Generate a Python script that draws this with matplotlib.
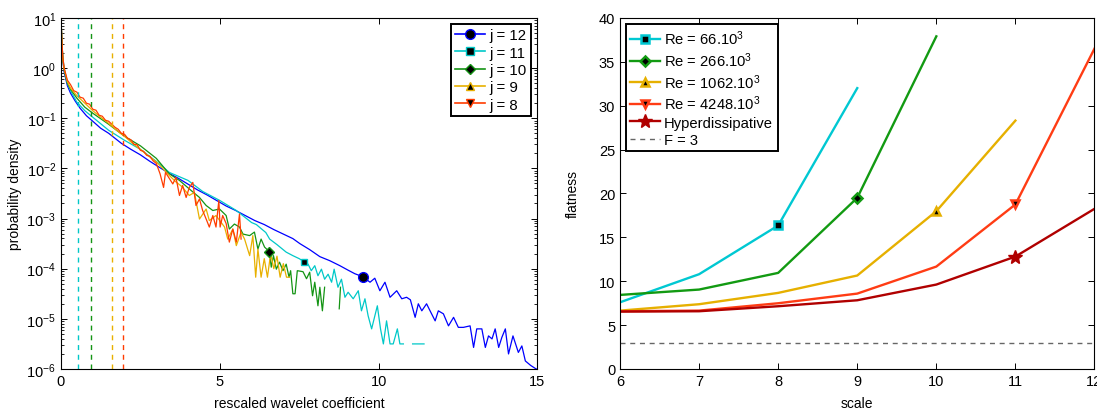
import numpy as np
import matplotlib
matplotlib.use("Agg")
import matplotlib.pyplot as plt
from matplotlib.lines import Line2D
from matplotlib.ticker import LogLocator, NullFormatter, MultipleLocator

plt.rcParams["font.family"] = ["Liberation Sans", "DejaVu Sans"]
plt.rcParams["mathtext.default"] = "regular"
plt.rcParams["font.size"] = 10

nan = np.nan

# ---- left panel: PDFs of rescaled wavelet coefficients (log10 of density)
j12_x = [0, 0.03, 0.06, 0.1, 0.2, 0.3, 0.45, 0.6, 0.8, 1.0, 1.25, 1.5, 1.9, 2.2, 2.5,
         2.8, 3.1, 3.41, 3.7, 4.04, 4.3, 4.6, 4.9, 5.2, 5.5, 5.8, 6.1, 6.4, 6.7, 7.0,
         7.3, 7.52, 7.83, 8.15, 8.46, 8.78, 9.04, 9.25, 9.5, 9.73, 9.88, 10.04, 10.2,
         10.36, 10.57, 10.73, 10.88, 11.0, 11.15, 11.25, 11.36, 11.51, 11.62, 11.78,
         11.88, 12.04, 12.2, 12.36, 12.51, 12.67, 12.88, 12.99, 13.09, 13.25, 13.36,
         13.46, 13.57, 13.67, 13.78, 13.88, 13.99, 14.09, 14.23, 14.4, 14.51, 14.62,
         14.79, 14.96, 15.0]
j12_logp = [1.0, 0.45, 0.15, -0.08, -0.35, -0.5, -0.66, -0.8, -0.95, -1.06, -1.2, -1.3,
            -1.5, -1.62, -1.73, -1.86, -1.98, -2.1, -2.2, -2.33, -2.43, -2.53, -2.64,
            -2.75, -2.84, -2.94, -3.04, -3.12, -3.22, -3.31, -3.4, -3.5, -3.62, -3.76,
            -3.84, -3.94, -4.03, -4.1, -4.16, -4.27, -4.19, -4.44, -4.27, -4.57, -4.44,
            -4.6, -4.57, -4.62, -4.97, -4.7, -4.84, -4.7, -4.84, -5.04, -4.84, -4.9,
            -5.14, -4.97, -5.17, -5.17, -5.14, -5.57, -5.2, -5.2, -5.57, -5.34, -5.4,
            -5.2, -5.57, -5.37, -5.2, -5.7, -5.34, -5.67, -5.54, -5.84, -5.93, -6.0, -6.0]

j11_x = [0, 0.03, 0.06, 0.1, 0.2, 0.3, 0.5, 0.75, 1.0, 1.5, 2.0, 2.5, 3.0, 3.41, 4.0,
         4.46, 5.0, 5.52, 5.8, 6.0, 6.15, 6.3, 6.45, 6.57, 6.8, 7.09, 7.3, 7.5, 7.65,
         7.78, 7.88, 7.99, 8.09, 8.2, 8.3, 8.41, 8.52, 8.6, 8.72, 8.83, 8.94, 9.04, 9.2,
         9.36, 9.46, 9.57, 9.67, 9.78, 9.96, 10.06, 10.15, 10.25, 10.36, 10.46, 10.59,
         10.67, 10.78, 10.9, 11.07, 11.43]
j11_logp = [1.0, 0.5, 0.2, 0.0, -0.3, -0.45, -0.68, -0.85, -0.98, -1.24, -1.44, -1.62,
            -1.86, -2.08, -2.24, -2.46, -2.64, -2.84, -2.98, -3.08, -3.12, -3.2, -3.28,
            -3.41, -3.52, -3.67, -3.74, -3.8, -3.86, -3.91, -4.04, -3.94, -4.14, -4.01,
            -4.21, -4.11, -4.27, -4.01, -4.37, -4.21, -4.57, -4.47, -4.6, -4.44, -4.84,
            -4.6, -4.94, -5.2, -4.74, -5.2, -5.5, -5.04, -5.5, -5.5, -5.2, -5.5, -5.5,
            nan, -5.5, -5.5]

j10_x = [0, 0.03, 0.06, 0.1, 0.2, 0.3, 0.5, 0.75, 1.0, 1.5, 2.0, 2.5, 3.0, 3.41, 3.73,
         4.04, 4.36, 4.57, 4.78, 4.99, 5.2, 5.3, 5.46, 5.62, 5.73, 5.94, 6.09, 6.2, 6.3,
         6.41, 6.56, 6.62, 6.69, 6.78, 6.88, 6.99, 7.09, 7.18, 7.23, 7.3, 7.37, 7.44,
         7.62, 7.73, 7.83, 7.92, 7.99, 8.09, 8.15, 8.23, 8.3, 8.5, 8.76, 8.8]
j10_logp = [1.0, 0.5, 0.15, -0.05, -0.3, -0.42, -0.6, -0.78, -0.9, -1.12, -1.36, -1.55,
            -1.8, -2.11, -2.24, -2.41, -2.58, -2.74, -2.84, -2.81, -2.94, -3.21, -3.11,
            -3.17, -3.31, -3.34, -3.27, -3.61, -3.41, -3.57, -3.66, -3.97, -3.74, -4.01,
            -3.87, -4.04, -3.91, -4.17, -4.04, -4.5, -4.5, -4.04, -4.06, -4.2, -4.07,
            -4.54, -4.27, -4.74, -4.37, -4.84, -4.37, nan, -4.8, -4.37]

j9_x = [0, 0.03, 0.06, 0.1, 0.2, 0.3, 0.5, 0.75, 1.0, 1.25, 1.5, 1.75, 2.0, 2.25, 2.5,
        2.75, 3.0, 3.2, 3.41, 3.6, 3.8, 4.04, 4.2, 4.36, 4.57, 4.67, 4.88, 5.15, 5.25,
        5.41, 5.52, 5.67, 5.78, 5.94, 6.04, 6.13, 6.2, 6.3, 6.4, 6.5, 6.6, 6.7, 6.8,
        6.9, 7.0, 7.1, 7.2]
j9_logp = [1.0, 0.5, 0.18, -0.02, -0.27, -0.4, -0.55, -0.7, -0.85, -0.98, -1.1, -1.24,
           -1.36, -1.5, -1.62, -1.75, -1.87, -2.0, -2.14, -2.26, -2.36, -2.54, -2.48,
           -3.01, -2.81, -3.04, -2.94, -3.17, -3.41, -3.21, -3.54, -3.27, -3.41, -3.74,
           -3.34, -4.17, -3.61, -4.17, -3.8, -4.17, -3.7, -4.0, -3.75, -4.17, -3.9,
           -4.17, -4.17]

j8_x = [0, 0.03, 0.06, 0.1, 0.2, 0.3, 0.4, 0.5, 0.6, 0.7, 0.8, 0.9, 1.0, 1.1, 1.2, 1.3,
        1.4, 1.5, 1.6, 1.7, 1.8, 1.9, 2.0, 2.1, 2.2, 2.3, 2.4, 2.5, 2.6, 2.7, 2.8, 2.9,
        3.0, 3.12, 3.23, 3.29, 3.41, 3.52, 3.62, 3.73, 3.83, 3.94, 4.04, 4.15, 4.25,
        4.36, 4.46, 4.57, 4.67, 4.78, 4.88, 4.97, 5.01, 5.09, 5.2, 5.3, 5.41, 5.52,
        5.62, 5.67]
j8_logp = [1.0, 0.5, 0.2, 0.0, -0.24, -0.33, -0.45, -0.48, -0.58, -0.6, -0.7, -0.72,
           -0.82, -0.84, -0.94, -0.96, -1.04, -1.06, -1.12, -1.18, -1.22, -1.3, -1.32,
           -1.4, -1.43, -1.52, -1.53, -1.64, -1.66, -1.74, -1.76, -1.85, -1.9, -2.11,
           -2.38, -2.08, -2.2, -2.31, -2.18, -2.54, -2.34, -2.58, -2.38, -2.28, -2.74,
           -2.61, -2.84, -3.01, -3.17, -2.94, -3.17, -2.64, -3.17, -2.94, -3.1, -3.47,
           -3.21, -3.47, -2.91, -3.41]

j_labels = ["j = 12", "j = 11", "j = 10", "j = 9", "j = 8"]
j_marker_x = [9.5, 7.65, 6.56]          # marked points on j=12, 11, 10
j_marker_logp = [-4.16, -3.86, -3.66]
dissipation_x = [0.53, 0.94, 1.62, 1.94]   # dashed lines for j=11, 10, 9, 8

# ---- right panel: flatness vs scale
scale = [6, 7, 8, 9, 10, 11, 12]
flat_66 = [7.6, 10.8, 16.35, 32.0]
flat_266 = [8.44, 9.05, 10.95, 19.5, 37.9]
flat_1062 = [6.65, 7.38, 8.67, 10.65, 17.98, 28.3]
flat_4248 = [6.58, 6.65, 7.49, 8.59, 11.67, 18.75, 36.5]
flat_hyper = [6.54, 6.58, 7.15, 7.83, 9.62, 12.81, 18.25]
re_labels = [r"Re = 66.10$^3$", r"Re = 266.10$^3$", r"Re = 1062.10$^3$",
             r"Re = 4248.10$^3$", "Hyperdissipative", "F = 3"]

fig = plt.figure(figsize=(10.97, 4.14), dpi=100)
ax1 = fig.add_axes([0.0556, 0.1063, 0.4343, 0.848])
ax2 = fig.add_axes([0.5652, 0.1063, 0.4325, 0.848])

left_colors = ["#0000ff", "#00c8c8", "#149414", "#e8b000", "#ff3c00"]
left_markers = ["o", "s", "D", "^", "v"]
curves = [(j12_x, j12_logp), (j11_x, j11_logp), (j10_x, j10_logp),
          (j9_x, j9_logp), (j8_x, j8_logp)]

for (x, lp), c in zip(curves, left_colors):
    ax1.plot(x, 10.0 ** np.array(lp), color=c, lw=0.9)
for xd, c in zip(dissipation_x, left_colors[1:]):
    ax1.axvline(xd, color=c, lw=1.0, dashes=(3.6, 3.4))
for xm, lm, c, m in zip(j_marker_x, j_marker_logp, left_colors, left_markers):
    ax1.plot([xm], [10.0 ** lm], marker=m, color=c, mfc="k", ms=7 if m == "o" else 5,
             mew=1.0, ls="none")

ax1.set_yscale("log")
ax1.set_xlim(0, 15)
ax1.set_ylim(1e-6, 10)
ax1.xaxis.set_major_locator(MultipleLocator(5))
ax1.yaxis.set_major_locator(LogLocator(base=10, numticks=10))
ax1.yaxis.set_minor_locator(LogLocator(base=10, subs=np.arange(2, 10), numticks=20))
ax1.yaxis.set_minor_formatter(NullFormatter())
ax1.set_xlabel("rescaled wavelet coefficient", labelpad=6)
ax1.set_ylabel("probability density", labelpad=3)

handles = [Line2D([], [], color=c, marker=m, mfc="k", ms=7 if m == "o" else 5.5, lw=1.2)
           for c, m in zip(left_colors, left_markers)]
leg1 = ax1.legend(handles, j_labels, loc="upper right", fontsize=10.8, fancybox=False,
                  edgecolor="k", framealpha=1, handlelength=2.0, handletextpad=0.3,
                  borderaxespad=0.4, labelspacing=0.22, borderpad=0.3)
leg1.get_frame().set_linewidth(1.4)

# right panel
right_colors = ["#00c8d2", "#129a12", "#e6b000", "#ff3c14", "#b00000"]
right_markers = ["s", "D", "^", "v", "*"]
series = [flat_66, flat_266, flat_1062, flat_4248, flat_hyper]
mark_idx = [2, 3, 4, 5, 5]
handles2 = []
for vals, c, m, k in zip(series, right_colors, right_markers, mark_idx):
    xs = scale[:len(vals)]
    ax2.plot(xs, vals, color=c, lw=1.7)
    face = c if m == "*" else "k"
    size = 10 if m == "*" else 5.5
    ew = 1.0 if m == "*" else 1.8
    ax2.plot([xs[k]], [vals[k]], marker=m, color=c, mfc=face, mec=c, ms=size,
             mew=ew, ls="none")
    handles2.append(Line2D([], [], color=c, lw=1.7, marker=m, mfc=face, mec=c,
                           ms=size, mew=ew))
ax2.plot([scale[0], scale[-1]], [3, 3], color="0.4", lw=1.0, dashes=(3.6, 3.4))
handles2.append(Line2D([], [], color="0.4", lw=1.0, dashes=(3.6, 3.4)))

ax2.set_xlim(6, 12)
ax2.set_ylim(0, 40)
ax2.xaxis.set_major_locator(MultipleLocator(1))
ax2.yaxis.set_major_locator(MultipleLocator(5))
ax2.set_xlabel("scale", labelpad=6)
ax2.set_ylabel("flatness", labelpad=14)
leg2 = ax2.legend(handles2, re_labels, loc="upper left", fontsize=10.6, fancybox=False,
                  edgecolor="k", framealpha=1, handlelength=2.0, handletextpad=0.3,
                  borderaxespad=0.4, labelspacing=0.22, borderpad=0.3)
leg2.get_frame().set_linewidth(1.4)

for ax in (ax1, ax2):
    ax.tick_params(which="both", direction="in", top=True, right=True, labelsize=10.5)
    ax.tick_params(which="major", length=4, width=0.7)
    ax.tick_params(which="minor", length=2, width=0.6)
    for sp in ax.spines.values():
        sp.set_linewidth(0.8)

fig.savefig("out.png", dpi=100)
